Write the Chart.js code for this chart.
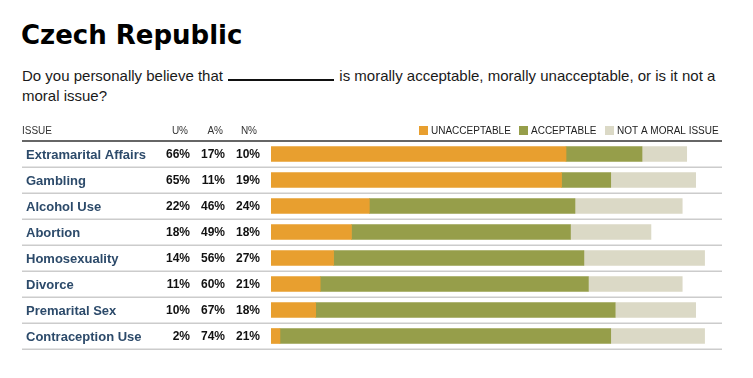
<!DOCTYPE html>
<html>
<head>
<meta charset="utf-8">
<script src="https://cdn.jsdelivr.net/npm/chart.js@4"></script>
<style>
  body { margin: 0; background: #fff; }
  #wrap { position: relative; width: 753px; height: 378px; overflow: hidden; }
  #wrap canvas { position: absolute; left: 0; top: 0; }
  .title { position: absolute; left: 21px; top: 20px; font-family: "DejaVu Sans", Verdana, sans-serif; font-weight: bold; font-size: 26px; color: #000; }
  .sub { position: absolute; left: 22px; top: 66px; width: 702px; font-family: "Liberation Sans", Arial, sans-serif; font-size: 15px; line-height: 20px; color: #1a1a1a; }
  .blank { display: inline-block; width: 106px; border-bottom: 2px solid #111; vertical-align: baseline; margin: 0 1px; }
</style>
</head>
<body>
<div id="wrap">
  <div class="title">Czech Republic</div>
  <div class="sub">Do you personally believe that <span class="blank"></span> is morally acceptable, morally unacceptable, or is it not a moral issue?</div>
  <canvas id="myChart" width="753" height="378"></canvas>
</div>
<script>
// data
const issues = ['Extramarital Affairs', 'Gambling', 'Alcohol Use', 'Abortion', 'Homosexuality', 'Divorce', 'Premarital Sex', 'Contraception Use'];
const unacceptable = [66, 65, 22, 18, 14, 11, 10, 2];
const acceptable = [17, 11, 46, 49, 56, 60, 67, 74];
const notMoral = [10, 19, 24, 18, 27, 21, 18, 21];
const seriesNames = ['UNACCEPTABLE', 'ACCEPTABLE', 'NOT A MORAL ISSUE'];
const colHeads = ['U%', 'A%', 'N%'];

const colors = ['#e89f2f', '#969e4a', '#dbd9c6'];
const labelFont = 'bold 13px "Liberation Sans", Arial, sans-serif';
const valFont = 'bold 12px "Liberation Sans", Arial, sans-serif';
const headFont = '10px "Liberation Sans", Arial, sans-serif';

// table text, rules and legend drawn around the bars
const tablePlugin = {
  id: 'table',
  beforeDatasetsDraw(chart) {
    const ctx = chart.ctx;
    const y = chart.scales.y;
    const rowH = y.getPixelForValue(1) - y.getPixelForValue(0);
    ctx.save();
    // header rule
    ctx.strokeStyle = '#666';
    ctx.lineWidth = 2;
    ctx.beginPath();
    ctx.moveTo(22, chart.chartArea.top);
    ctx.lineTo(722, chart.chartArea.top);
    ctx.stroke();
    // row rules
    ctx.strokeStyle = '#cccccc';
    ctx.lineWidth = 1.5;
    for (let i = 0; i < issues.length; i++) {
      const yy = Math.round(y.getPixelForValue(i) + rowH / 2) + 0.25;
      ctx.beginPath();
      ctx.moveTo(22, yy);
      ctx.lineTo(722, yy);
      ctx.stroke();
    }
    // header text
    ctx.fillStyle = '#333';
    ctx.font = headFont;
    ctx.textBaseline = 'alphabetic';
    ctx.textAlign = 'left';
    ctx.fillText('ISSUE', 22, 134);
    ctx.textAlign = 'right';
    const colX = [190, 225, 260];
    const headX = [188, 223, 257];
    colHeads.forEach((h, k) => ctx.fillText(h, headX[k], 134));
    // legend
    const legX = [419, 519, 605];
    ctx.textAlign = 'left';
    seriesNames.forEach((n, k) => {
      ctx.fillStyle = colors[k];
      ctx.fillRect(legX[k], 126, 9, 9);
      ctx.fillStyle = '#222';
      ctx.fillText(n, legX[k] + 12, 134);
    });
    // rows
    const vals = [unacceptable, acceptable, notMoral];
    ctx.textBaseline = 'middle';
    for (let i = 0; i < issues.length; i++) {
      const cy = y.getPixelForValue(i) + 1;
      ctx.font = labelFont;
      ctx.fillStyle = '#2c4a6a';
      ctx.textAlign = 'left';
      ctx.fillText(issues[i], 26, cy);
      ctx.font = valFont;
      ctx.fillStyle = '#111';
      ctx.textAlign = 'right';
      vals.forEach((v, k) => ctx.fillText(v[i] + '%', colX[k], cy));
    }
    ctx.restore();
  }
};

const data = {
  labels: issues,
  datasets: [
    { label: seriesNames[0], data: unacceptable, backgroundColor: colors[0] },
    { label: seriesNames[1], data: acceptable, backgroundColor: colors[1] },
    { label: seriesNames[2], data: notMoral, backgroundColor: colors[2] }
  ]
};

const config = {
  type: 'bar',
  data,
  options: {
    indexAxis: 'y',
    responsive: false,
    animation: false,
    devicePixelRatio: 1,
    layout: { padding: { left: 271, right: 35, top: 141, bottom: 29 } },
    datasets: { bar: { barThickness: 15, borderWidth: 0 } },
    scales: {
      x: { stacked: true, min: 0, max: 100, display: false },
      y: { stacked: true, display: false }
    },
    plugins: {
      legend: { display: false },
      tooltip: { enabled: false }
    }
  },
  plugins: [tablePlugin]
};

const myChart = new Chart(document.getElementById('myChart'), config);
</script>
</body>
</html>
